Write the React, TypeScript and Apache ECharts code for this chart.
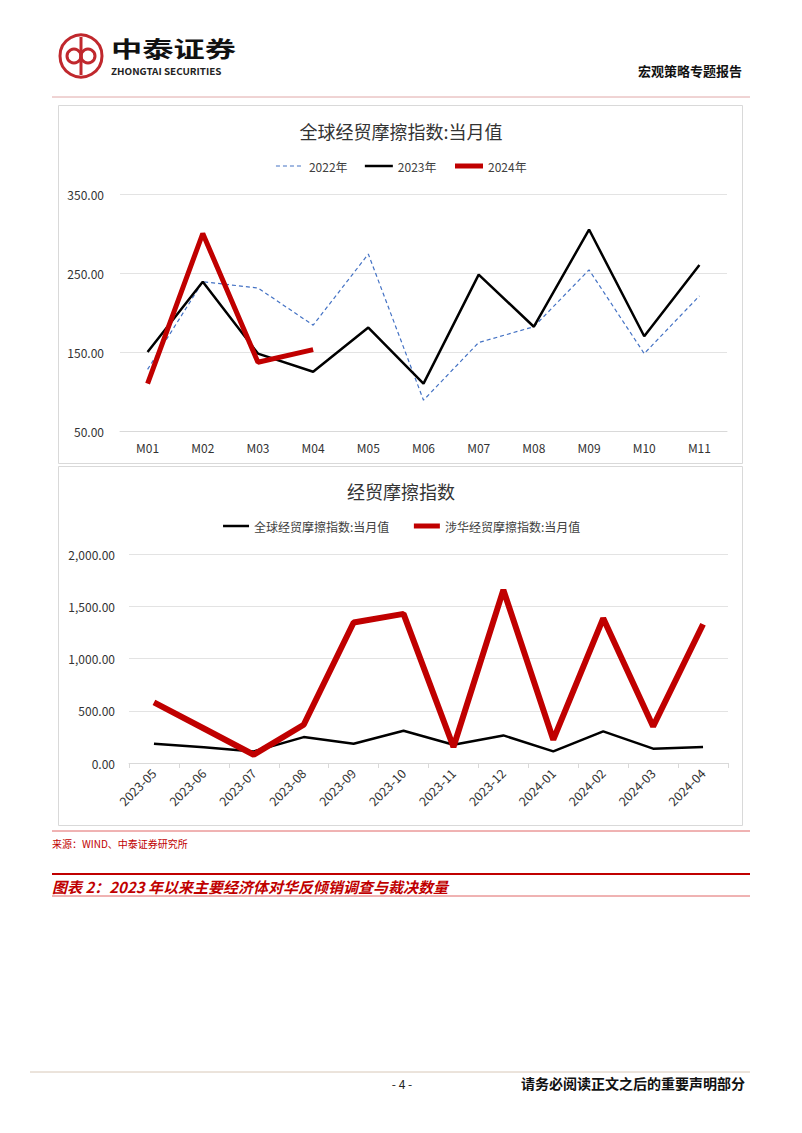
import React, { useEffect, useRef } from "react";
import * as echarts from "echarts";

const months = ["M01", "M02", "M03", "M04", "M05", "M06", "M07", "M08", "M09", "M10", "M11"];
const s2022 = [128, 239, 231, 184, 274, 89, 162, 182, 254, 148, 221];
const s2023 = [150, 239, 148, 125, 181, 110, 248, 182, 305, 170, 260];
const s2024 = [110, 300, 137, 153];

const dates = ["2023-05", "2023-06", "2023-07", "2023-08", "2023-09", "2023-10", "2023-11", "2023-12", "2024-01", "2024-02", "2024-03", "2024-04"];
const globalIdx = [184, 150, 111, 248, 185, 309, 175, 264, 111, 302, 137, 153];
const chinaIdx = [580, 330, 79, 366, 1344, 1427, 153, 1656, 223, 1385, 350, 1328];

const FONT = '"Noto Sans CJK SC", "Noto Sans", sans-serif';
const RED = "#c00000";

export default function App() {
  const ref = useRef<HTMLDivElement>(null);
  useEffect(() => {
    if (!ref.current) return;
    const chart = echarts.init(ref.current, undefined, { renderer: "svg" });
    const txt = (text: string, x: number, y: number, o: any = {}, extra: any = {}) => ({
      type: "text",
      x,
      y,
      silent: true,
      ...extra,
      style: {
        text,
        fontFamily: FONT,
        fontSize: 12,
        fill: "#000",
        align: "left",
        verticalAlign: "middle",
        ...o,
      },
    });
    const hline = (x1: number, x2: number, y: number, stroke: string, w = 1) => ({
      type: "line",
      silent: true,
      shape: { x1, y1: y, x2, y2: y },
      style: { stroke, lineWidth: w },
    });
    const option: any = {
      animation: false,
      backgroundColor: "#fff",
      textStyle: { fontFamily: FONT },
      title: [
        {
          text: "全球经贸摩擦指数:当月值",
          left: "center",
          top: 117,
          textStyle: { fontSize: 18, fontWeight: "normal", color: "#333", fontFamily: FONT },
        },
        {
          text: "经贸摩擦指数",
          left: "center",
          top: 477,
          textStyle: { fontSize: 18, fontWeight: "normal", color: "#333", fontFamily: FONT },
        },
      ],
      legend: [
        {
          data: [
            { name: "2022年", lineStyle: { width: 1.2 } },
            { name: "2023年", lineStyle: { width: 2.5 } },
            { name: "2024年", lineStyle: { width: 5 } },
          ],
          top: 155,
          left: "center",
          itemWidth: 28,
          itemHeight: 12,
          itemGap: 16,
          itemStyle: { opacity: 0 },
          textStyle: { fontSize: 12, color: "#404040", fontFamily: FONT },
        },
        {
          data: [
            { name: "全球经贸摩擦指数:当月值", lineStyle: { width: 2.5 } },
            { name: "涉华经贸摩擦指数:当月值", lineStyle: { width: 5 } },
          ],
          top: 515,
          left: "center",
          itemWidth: 26,
          itemHeight: 12,
          itemGap: 22,
          itemStyle: { opacity: 0 },
          textStyle: { fontSize: 12, color: "#404040", fontFamily: FONT },
        },
      ],
      grid: [
        { left: 120, right: 75, top: 194, bottom: 702, containLabel: false },
        { left: 129, right: 74, top: 554, bottom: 370, containLabel: false },
      ],
      xAxis: [
        {
          type: "category",
          gridIndex: 0,
          data: months,
          boundaryGap: true,
          axisLine: { lineStyle: { color: "#d9d9d9" } },
          axisTick: { show: false },
          axisLabel: { color: "#333", fontSize: 12, margin: 10, fontFamily: FONT },
        },
        {
          type: "category",
          gridIndex: 1,
          data: dates,
          boundaryGap: true,
          axisLine: { lineStyle: { color: "#d9d9d9" } },
          axisTick: { show: true, length: 5, lineStyle: { color: "#d9d9d9" } },
          axisLabel: { color: "#333", fontSize: 12.5, margin: 8, rotate: 45, interval: 0, fontFamily: FONT },
        },
      ],
      yAxis: [
        {
          type: "value",
          gridIndex: 0,
          min: 50,
          max: 350,
          interval: 100,
          axisLine: { show: false },
          axisTick: { show: false },
          splitLine: { lineStyle: { color: "#e3e3e3" } },
          axisLabel: {
            color: "#333",
            fontSize: 12,
            margin: 16,
            fontFamily: FONT,
            formatter: (v: number) => v.toFixed(2),
          },
        },
        {
          type: "value",
          gridIndex: 1,
          min: 0,
          max: 2000,
          interval: 500,
          axisLine: { show: false },
          axisTick: { show: false },
          splitLine: { lineStyle: { color: "#e3e3e3" } },
          axisLabel: {
            color: "#333",
            fontSize: 12,
            margin: 14,
            fontFamily: FONT,
            formatter: (v: number) =>
              v.toLocaleString("en-US", { minimumFractionDigits: 2, maximumFractionDigits: 2 }),
          },
        },
      ],
      series: [
        {
          name: "2022年",
          type: "line",
          xAxisIndex: 0,
          yAxisIndex: 0,
          data: s2022,
          symbol: "none",
          lineStyle: { color: "#4472c4", width: 1.2, type: [4, 3] },
          itemStyle: { color: "#4472c4" },
          z: 2,
        },
        {
          name: "2023年",
          type: "line",
          xAxisIndex: 0,
          yAxisIndex: 0,
          data: s2023,
          symbol: "none",
          lineStyle: { color: "#000", width: 2.5 },
          itemStyle: { color: "#000" },
          z: 3,
        },
        {
          name: "2024年",
          type: "line",
          xAxisIndex: 0,
          yAxisIndex: 0,
          data: s2024,
          symbol: "none",
          lineStyle: { color: RED, width: 5 },
          itemStyle: { color: RED },
          z: 4,
        },
        {
          name: "全球经贸摩擦指数:当月值",
          type: "line",
          xAxisIndex: 1,
          yAxisIndex: 1,
          data: globalIdx,
          symbol: "none",
          lineStyle: { color: "#000", width: 2.5 },
          itemStyle: { color: "#000" },
          z: 3,
        },
        {
          name: "涉华经贸摩擦指数:当月值",
          type: "line",
          xAxisIndex: 1,
          yAxisIndex: 1,
          data: chinaIdx,
          symbol: "none",
          lineStyle: { color: RED, width: 6 },
          itemStyle: { color: RED },
          z: 4,
        },
      ],
      graphic: [
        // logo
        {
          type: "circle",
          silent: true,
          shape: { cx: 81, cy: 56, r: 21 },
          style: { fill: "none", stroke: "#c0282d", lineWidth: 3 },
        },
        {
          type: "circle",
          silent: true,
          shape: { cx: 74, cy: 56, r: 7 },
          style: { fill: "none", stroke: "#c0282d", lineWidth: 3 },
        },
        {
          type: "circle",
          silent: true,
          shape: { cx: 88, cy: 56, r: 7 },
          style: { fill: "none", stroke: "#c0282d", lineWidth: 3 },
        },
        {
          type: "line",
          silent: true,
          shape: { x1: 81, y1: 37, x2: 81, y2: 75 },
          style: { stroke: "#c0282d", lineWidth: 3 },
        },
        txt("中泰证券", 111, 48, { fontSize: 22, fontWeight: "bold", fill: "#111" }, { scaleX: 1.42 }),
        txt("ZHONGTAI SECURITIES", 111, 71, { fontSize: 9.5, fontWeight: "bold", fill: "#222" }, { scaleX: 1.04 }),
        txt("宏观策略专题报告", 742, 70, { fontSize: 13, fontWeight: "bold", align: "right", fill: "#111" }),
        hline(52, 750, 97, "#e0a8a8", 1),
        // chart frames
        {
          type: "rect",
          silent: true,
          shape: { x: 58.5, y: 105.5, width: 684, height: 358 },
          style: { fill: "none", stroke: "#d9d9d9", lineWidth: 1 },
        },
        {
          type: "rect",
          silent: true,
          shape: { x: 58.5, y: 466.5, width: 684, height: 359 },
          style: { fill: "none", stroke: "#d9d9d9", lineWidth: 1 },
        },
        hline(52, 750, 831, "#e06666", 1),
        txt("来源：WIND、中泰证券研究所", 52, 843, { fontSize: 10, fill: RED }),
        hline(52, 750, 874, RED, 2),
        txt("图表 2：2023 年以来主要经济体对华反倾销调查与裁决数量", 52, 886, {
          fontSize: 15,
          fontWeight: "bold",
          fontStyle: "italic",
          fill: RED,
        }),
        hline(52, 750, 896, "#e06666", 1),
        hline(30, 750, 1072, "#d8c8b8", 1),
        txt("- 4 -", 402, 1083, { fontSize: 12, align: "center", fill: "#222" }),
        txt("请务必阅读正文之后的重要声明部分", 745, 1083, {
          fontSize: 14,
          fontWeight: "bold",
          align: "right",
          fill: "#111",
        }),
      ],
    };
    chart.setOption(option);
    return () => chart.dispose();
  }, []);
  return (
    <div
      ref={ref}
      style={{ position: "absolute", left: 0, top: 0, width: 802, height: 1133, background: "#fff" }}
    />
  );
}
